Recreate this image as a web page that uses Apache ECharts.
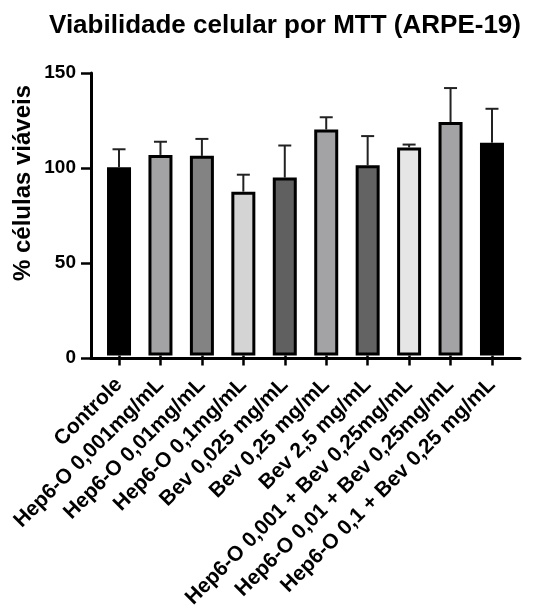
<!DOCTYPE html>
<html>
<head>
<meta charset="utf-8">
<script src="https://cdn.jsdelivr.net/npm/echarts@6/dist/echarts.min.js"></script>
<style>
html,body{margin:0;padding:0;background:#fff;}
#c{width:559px;height:611px;}
</style>
</head>
<body>
<div id="c"></div>
<script>
const categories = [
  'Controle',
  'Hep6-O 0,001mg/mL',
  'Hep6-O 0,01mg/mL',
  'Hep6-O 0,1mg/mL',
  'Bev 0,025 mg/mL',
  'Bev 0,25 mg/mL',
  'Bev 2,5 mg/mL',
  'Hep6-O 0,001 + Bev 0,25mg/mL',
  'Hep6-O 0,01 + Bev 0,25mg/mL',
  'Hep6-O 0,1 + Bev 0,25 mg/mL'
];
const means = [100, 106.5, 106, 87, 94.5, 120, 101, 110.5, 124, 113];
const sds = [9.5, 7, 9, 9, 17, 6.5, 15.5, 1.5, 18, 18];
const yTicks = [0, 50, 100, 150];
const titleText = 'Viabilidade celular por MTT (ARPE-19)';
const yTitle = '% células viáveis';

const palette = ['#000000', '#a3a3a6', '#838383', '#d4d4d4', '#606060', '#a3a3a6', '#636363', '#e6e6e6', '#a3a3a6', '#000000'];
const FONT = '"Liberation Sans", Arial, Helvetica, sans-serif';

const chart = echarts.init(document.getElementById('c'), null, {renderer: 'canvas'});

const barData = means.map((v, i) => ({
  value: v,
  itemStyle: {color: palette[i]}
}));
const errData = means.map((v, i) => [i, v, v + sds[i]]);

const option = {
  backgroundColor: '#ffffff',
  animation: false,
  grid: [
    {left: 91, top: 73, width: 429, height: 285, containLabel: false},
    {left: 98.3, top: 73, width: 414.4, height: 285, containLabel: false}
  ],
  xAxis: [
    {
      gridIndex: 0, type: 'value', min: 0, max: 1,
      axisLine: {show: true, lineStyle: {color: '#000', width: 3}},
      axisTick: {show: false}, axisLabel: {show: false}, splitLine: {show: false}
    },
    {
      gridIndex: 1, type: 'category', data: categories, boundaryGap: true,
      axisLine: {show: false},
      axisTick: {show: true, alignWithLabel: true, length: 10, lineStyle: {color: '#000', width: 2.5}},
      axisLabel: {
        interval: 0, rotate: 45, margin: 26, color: '#000',
        fontFamily: FONT, fontWeight: 'bold', fontSize: 21
      },
      splitLine: {show: false}
    }
  ],
  yAxis: [
    {
      gridIndex: 0, type: 'value', min: 0, max: 150, interval: 50,
      axisLine: {show: true, lineStyle: {color: '#000', width: 3}},
      axisTick: {show: true, inside: false, length: 10, lineStyle: {color: '#000', width: 2.5}},
      axisLabel: {
        color: '#000', fontFamily: FONT, fontWeight: 'bold', fontSize: 19, margin: 15,
        customValues: yTicks
      },
      splitLine: {show: false}
    },
    {
      gridIndex: 1, type: 'value', min: 0, max: 150, interval: 50,
      show: false
    }
  ],
  series: [
    {
      type: 'custom',
      xAxisIndex: 1, yAxisIndex: 1,
      data: errData,
      z: 1,
      renderItem: function (params, api) {
        const x = api.coord([api.value(0), api.value(1)])[0];
        const y0 = api.coord([api.value(0), api.value(1)])[1];
        const y1 = api.coord([api.value(0), api.value(2)])[1];
        const half = 6.5;
        return {
          type: 'group',
          children: [
            {type: 'line', shape: {x1: x, y1: y0, x2: x, y2: y1}, style: {stroke: '#222', lineWidth: 2}},
            {type: 'line', shape: {x1: x - half, y1: y1, x2: x + half, y2: y1}, style: {stroke: '#222', lineWidth: 2}}
          ]
        };
      }
    },
    {
      type: 'bar',
      xAxisIndex: 1, yAxisIndex: 1,
      data: barData,
      barWidth: 24,
      z: 2,
      itemStyle: {borderColor: '#000', borderWidth: 3}
    }
  ],
  graphic: [
    {
      type: 'text', x: 285, y: 13,
      style: {
        text: titleText, fill: '#000', fontFamily: FONT, fontWeight: 'bold', fontSize: 26,
        align: 'center', verticalAlign: 'top'
      }
    },
    {
      type: 'text', x: 23, y: 183, rotation: Math.PI / 2,
      style: {
        text: yTitle, fill: '#000', fontFamily: FONT, fontWeight: 'bold', fontSize: 24,
        align: 'center', verticalAlign: 'middle'
      }
    }
  ]
};
chart.setOption(option);
</script>
</body>
</html>
